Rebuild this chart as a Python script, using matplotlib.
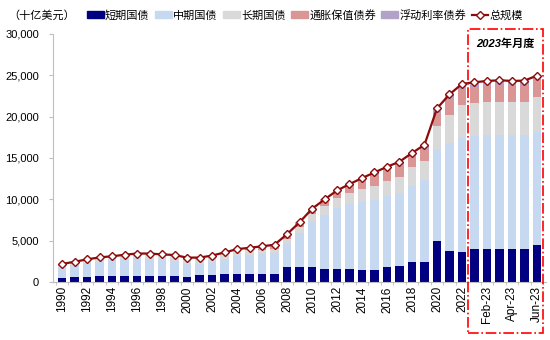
import numpy as np
import matplotlib.pyplot as plt
from matplotlib.patches import Rectangle
from matplotlib.lines import Line2D
from matplotlib import transforms

plt.rcParams['font.family'] = ['Liberation Sans', 'Noto Sans CJK SC']

# 美国可流通国债结构（十亿美元），1990-2022 年末 + 2023 年 1-6 月
periods = [str(y) for y in range(1990, 2023)] + ['Jan-23', 'Feb-23', 'Mar-23', 'Apr-23', 'May-23', 'Jun-23']

bills = [527, 590, 657, 714, 733, 761, 777, 715, 691, 737, 647, 811, 889, 928, 1001, 963, 944, 999,
         1862, 1788, 1784, 1520, 1630, 1590, 1460, 1510, 1820, 1950, 2380, 2420, 4950, 3750, 3640,
         3960, 4040, 4040, 3960, 4000, 4450]
notes = [1265, 1424, 1609, 1764, 1868, 2010, 2112, 2106, 1961, 1784, 1557, 1414, 1581, 1906, 2161, 2328, 2445, 2488,
         2760, 4150, 5570, 6600, 7300, 7860, 8240, 8430, 8600, 8800, 9280, 9940, 11130, 13050, 13760,
         13740, 13760, 13760, 13840, 13800, 13750]
bonds = [388, 435, 472, 495, 511, 522, 555, 587, 621, 643, 627, 592, 577, 564, 552, 520, 534, 562,
         600, 707, 849, 1020, 1194, 1362, 1534, 1689, 1835, 2010, 2210, 2310, 2820, 3440, 3970,
         4000, 4000, 4000, 4000, 4000, 4200]
tips = [0, 0, 0, 0, 0, 0, 0, 33, 67, 99, 115, 136, 146, 177, 258, 329, 395, 457,
        560, 568, 647, 840, 946, 1028, 1172, 1349, 1340, 1435, 1350, 1430, 1600, 1760, 1980,
        1900, 1950, 2010, 1960, 1990, 2000]
frn = [0] * 24 + [164, 272, 345, 355, 380, 500, 500, 700, 610,
                  560, 570, 590, 560, 570, 570]
total = [2180, 2449, 2738, 2973, 3112, 3293, 3444, 3441, 3340, 3263, 2946, 2953, 3193, 3575, 3972, 4140, 4318, 4506,
         5782, 7213, 8850, 9980, 11070, 11840, 12570, 13250, 13940, 14550, 15600, 16600, 21000, 22700, 23960,
         24160, 24320, 24400, 24320, 24360, 24970]

series = [
    ('短期国债', bills, '#000080'),
    ('中期国债', notes, '#c6d9f1'),
    ('长期国债', bonds, '#d9d9d9'),
    ('通胀保值债券', tips, '#da9694'),
    ('浮动利率债券', frn, '#b3a2c7'),
]

fig = plt.figure(figsize=(5.5, 3.4), dpi=100)
ax = fig.add_axes([0.0964, 0.1706, 0.8963, 0.7294])

x = np.arange(len(periods))
bottom = np.zeros(len(periods))
handles = []
for name, vals, color in series:
    vals = np.array(vals, dtype=float)
    ax.bar(x, vals, 0.7, bottom=bottom, color=color, label=name, zorder=2)
    bottom += vals
    handles.append(Rectangle((0, 0), 1, 1, color=color))

dark_red = '#8b0a0a'
ax.plot(x, total, color=dark_red, lw=1.6, marker='D', ms=3.6, mfc='white', mec=dark_red,
        mew=1.0, zorder=4)
handles.append(Line2D([], [], color=dark_red, lw=1.6, marker='D', ms=3.6, mfc='white', mec=dark_red))

ax.set_xlim(-0.72, len(periods) - 0.28)
ax.set_ylim(0, 30000)
ax.set_yticks(np.arange(0, 30001, 5000))
ax.yaxis.set_major_formatter(plt.FuncFormatter(lambda v, p: f'{int(v):,}'))

tick_pos = list(range(0, 33, 2)) + [34, 36, 38]
ax.set_xticks(tick_pos)
ax.set_xticklabels([periods[i] for i in tick_pos], rotation=90)
ax.set_xticks(np.arange(-0.5, len(periods), 1), minor=True)
ax.tick_params(axis='x', which='major', length=0, labelsize=8.5, pad=3)
ax.tick_params(axis='x', which='minor', length=2, color='#bfbfbf')
ax.tick_params(axis='y', length=3, color='#bfbfbf', labelsize=8, pad=7)

for s in ['top', 'right']:
    ax.spines[s].set_visible(False)
for s in ['left', 'bottom']:
    ax.spines[s].set_color('#bfbfbf')

fig.text(0.015, 0.955, '（十亿美元）', fontsize=8, va='center', ha='left')
fig.legend(handles, [s[0] for s in series] + ['总规模'], loc='center left',
           bbox_to_anchor=(0.158, 0.955), ncol=6, frameon=False, fontsize=8,
           handlelength=1.5, handleheight=0.6, handletextpad=0.12, columnspacing=0.5,
           borderaxespad=0, borderpad=0)

# 2023 年月度数据框
trans = transforms.blended_transform_factory(ax.transData, fig.transFigure)
box = Rectangle((32.5, 0.02), 6.0, 0.895, transform=trans, fill=False, edgecolor='#ff0000',
                lw=1.2, linestyle='-.', clip_on=False, zorder=5)
fig.add_artist(box)
fig.text(35.5, 0.87, '2023年月度', transform=trans, ha='center', va='center',
         fontsize=8, fontweight='bold', fontstyle='italic')

fig.savefig('out.png', dpi=100)
